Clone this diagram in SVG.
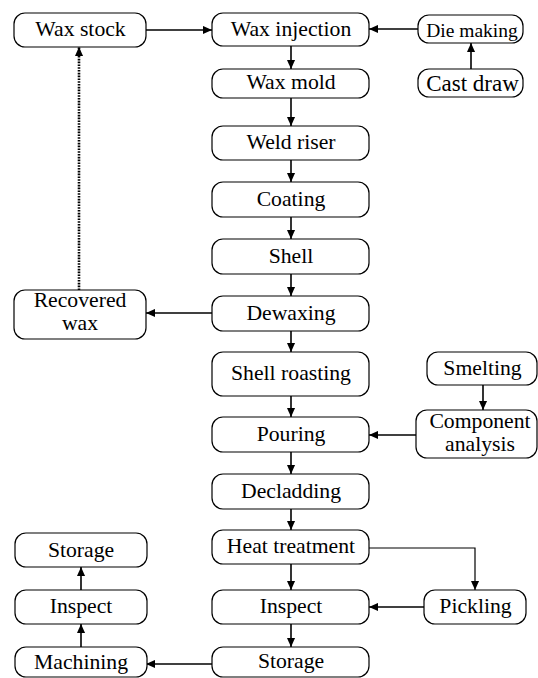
<svg xmlns="http://www.w3.org/2000/svg" width="538" height="678" viewBox="0 0 538 678">
<defs>
<marker id="ah" viewBox="0 0 10 10" refX="10" refY="5" markerWidth="9" markerHeight="9" markerUnits="userSpaceOnUse" orient="auto">
<path d="M0,0.5 L10,5 L0,9.5 Z" fill="#000"/>
</marker>
<style>
rect{fill:#fff;stroke:#000;stroke-width:1.2}
.t{font-family:'Liberation Serif','Times New Roman',serif;font-size:21.7px;fill:#000;text-anchor:middle}
.t.sm{font-size:19.5px}
.t.lg{font-size:23px}
#connectors path{fill:none;stroke:#000;stroke-width:1.6;marker-end:url(#ah)}
#connectors path.thin{stroke-width:1.2}
#connectors path.dot{stroke-width:2.6;stroke-dasharray:1.6 1.2}
</style>
</defs>
<rect x="0" y="0" width="538" height="678" style="fill:#fff;stroke:none"/>
<g id="connectors">
<path d="M146,30 H212"/>
<path d="M418,29 H369"/>
<path d="M471,69 V43"/>
<path d="M291,46 V69"/>
<path d="M291,98 V126"/>
<path d="M291,160 V182"/>
<path d="M291,217 V239"/>
<path d="M291,274 V296"/>
<path d="M212,313 H146"/>
<path class="dot" d="M79,290 V47"/>
<path d="M291,331 V352"/>
<path d="M291,396 V417"/>
<path d="M483,385 V410"/>
<path d="M416,435 H369"/>
<path d="M291,452 V474"/>
<path d="M291,509 V530"/>
<path class="thin" d="M369,548 H475 V590"/>
<path d="M291,564 V590"/>
<path d="M424,607 H369"/>
<path d="M291,624 V647"/>
<path d="M212,664 H146"/>
<path d="M81,647 V624"/>
<path d="M81,590 V567"/>
</g>
<g id="wax-stock"><rect x="14" y="13" width="132" height="34" rx="11"/><text class="t" x="80.5" y="35.5">Wax stock</text></g>
<g id="wax-injection"><rect x="212" y="13" width="157" height="33" rx="11"/><text class="t" x="291" y="35.5">Wax injection</text></g>
<g id="die-making"><rect x="418" y="15" width="105" height="28" rx="11"/><text class="t sm" x="472" y="36.5">Die making</text></g>
<g id="cast-draw"><rect x="418" y="69" width="105" height="28" rx="11"/><text class="t lg" x="472.5" y="90.5">Cast draw</text></g>
<g id="wax-mold"><rect x="212" y="69" width="157" height="29" rx="11"/><text class="t" x="291" y="88.5">Wax mold</text></g>
<g id="weld-riser"><rect x="212" y="126" width="157" height="34" rx="11"/><text class="t" x="291" y="148.5">Weld riser</text></g>
<g id="coating"><rect x="212" y="182" width="157" height="35" rx="11"/><text class="t" x="291" y="205.5">Coating</text></g>
<g id="shell"><rect x="212" y="239" width="157" height="35" rx="11"/><text class="t" x="291" y="262.5">Shell</text></g>
<g id="recovered-wax"><rect x="14" y="290" width="132" height="49" rx="11"/><text class="t" x="80" y="306.5">Recovered</text><text class="t" x="80" y="330">wax</text></g>
<g id="dewaxing"><rect x="212" y="296" width="157" height="35" rx="11"/><text class="t" x="291" y="319.5">Dewaxing</text></g>
<g id="shell-roasting"><rect x="212" y="352" width="157" height="44" rx="11"/><text class="t" x="291" y="379.5">Shell roasting</text></g>
<g id="smelting"><rect x="427" y="352" width="110" height="33" rx="11"/><text class="t" x="482.5" y="374.5">Smelting</text></g>
<g id="component-analysis"><rect x="416" y="410" width="121" height="48" rx="11"/><text class="t" x="480" y="427.5">Component</text><text class="t" x="480" y="450.5">analysis</text></g>
<g id="pouring"><rect x="212" y="417" width="157" height="35" rx="11"/><text class="t" x="291" y="440.5">Pouring</text></g>
<g id="decladding"><rect x="212" y="474" width="157" height="35" rx="11"/><text class="t" x="291" y="497.5">Decladding</text></g>
<g id="heat-treatment"><rect x="212" y="530" width="157" height="34" rx="11"/><text class="t" x="291" y="552.5">Heat treatment</text></g>
<g id="storage-left"><rect x="15" y="533" width="132" height="34" rx="11"/><text class="t" x="81" y="556.5">Storage</text></g>
<g id="inspect-left"><rect x="15" y="590" width="132" height="34" rx="11"/><text class="t" x="81" y="613">Inspect</text></g>
<g id="inspect"><rect x="212" y="590" width="157" height="34" rx="11"/><text class="t" x="291" y="612.5">Inspect</text></g>
<g id="pickling"><rect x="424" y="590" width="102" height="34" rx="11"/><text class="t" x="475.5" y="612.5">Pickling</text></g>
<g id="machining"><rect x="15" y="647" width="132" height="30" rx="11"/><text class="t" x="81" y="668.5">Machining</text></g>
<g id="storage"><rect x="212" y="647" width="157" height="30" rx="11"/><text class="t" x="291" y="667.5">Storage</text></g>
</svg>
